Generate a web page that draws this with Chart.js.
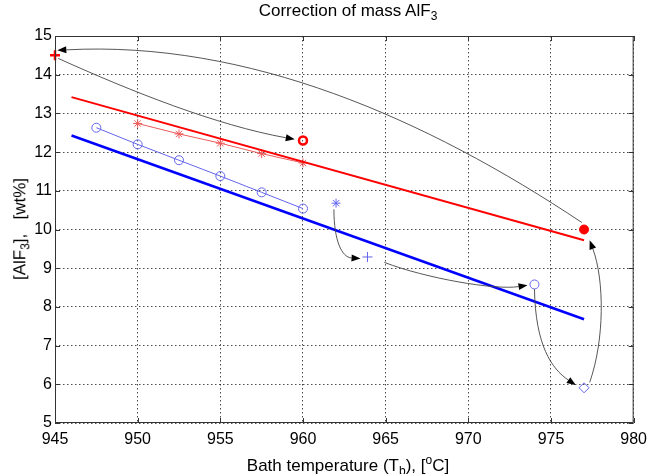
<!DOCTYPE html>
<html>
<head>
<meta charset="utf-8">
<script src="https://cdn.jsdelivr.net/npm/chart.js@4"></script>
<style>
  body { margin: 0; background: #fff; }
  #wrap { position: relative; width: 654px; height: 474px; background: #fff; font-family: "Liberation Sans", Arial, sans-serif; color: #000; }
  #c { position: absolute; left: 0; top: 0; }
  .lbl { position: absolute; font-size: 17px; white-space: nowrap; text-align: center; line-height: 20px; }
  .lbl sub, .lbl sup { font-size: 12px; }
  #title { left: 55px; width: 586px; top: 1px; }
  #xlab { left: 55px; width: 586px; top: 450px; }
  #ylab { left: 23px; top: 229px; width: 300px; transform: translate(-50%, -50%) rotate(-90deg); }
</style>
</head>
<body>
<div id="wrap">
  <canvas id="c" width="654" height="474"></canvas>
  <div class="lbl" id="title">Correction of mass AlF<sub>3</sub></div>
  <div class="lbl" id="xlab">Bath temperature (T<sub>b</sub>), [<sup>o</sup>C]</div>
  <div class="lbl" id="ylab">[AlF<sub>3</sub>],&nbsp;&nbsp; [wt%]</div>
</div>
<script>
// measured series
const starX = [950, 952.5, 955, 957.5, 960];
const starY = [12.74, 12.47, 12.23, 11.96, 11.72];
const circX = [947.5, 950, 952.5, 955, 957.5, 960];
const circY = [12.63, 12.20, 11.79, 11.38, 10.96, 10.54];

// fitted lines
const redFitX = [946, 977];
const redFitY = [13.42, 9.72];
const blueFitX = [946, 977];
const blueFitY = [12.43, 7.68];

// single points
const redPlus = [945, 14.5];
const redRing = [960, 12.3];
const redDot = [977, 10.0];
const blueStar = [962, 10.68];
const bluePlus = [963.9, 9.29];
const blueRing = [974, 8.58];
const blueDiamond = [977, 5.91];

// curved arrows, bezier in data units: x0,y0, x1,y1, x2,y2, x3,y3
const arrows = [
  [976.87, 10.18, 967.43, 12.87, 956.67, 14.89, 945.14, 14.63],
  [945.2, 14.42, 949.6, 13.57, 954.8, 12.69, 959.5, 12.33],
  [961.87, 10.52, 961.87, 9.71, 962.35, 9.28, 963.48, 9.25],
  [964.92, 9.15, 967.42, 8.74, 971.6, 8.43, 973.58, 8.56],
  [974.0, 8.455, 974.06, 7.01, 975.04, 6.40, 976.5, 5.98],
  [977.34, 6.05, 978.24, 7.14, 978.24, 8.69, 977.34, 9.72]
];

const xTicks = [945, 950, 955, 960, 965, 970, 975, 980];
const yTicks = [5, 6, 7, 8, 9, 10, 11, 12, 13, 14, 15];

function pts(xs, ys) {
  return xs.map((x, i) => ({x: x, y: ys[i]}));
}
function one(p) {
  return [{x: p[0], y: p[1]}];
}

const RED = '#ff0000';
const BLUE = '#0000ff';
const LRED = '#ee5a5a';
const LBLUE = '#6464ee';

const boxPlugin = {
  id: 'box',
  afterDraw(chart) {
    const ctx = chart.ctx;
    const a = chart.chartArea;
    const xs = chart.scales.x, ys = chart.scales.y;
    ctx.save();
    ctx.strokeStyle = '#333';
    ctx.lineWidth = 1;
    ctx.strokeRect(a.left + 0.5, a.top + 0.5, a.right - a.left - 1, a.bottom - a.top - 1);
    ctx.beginPath();
    xTicks.forEach(v => {
      const px = Math.round(xs.getPixelForValue(v)) + 0.5;
      ctx.moveTo(px, a.bottom); ctx.lineTo(px, a.bottom - 5);
      ctx.moveTo(px, a.top); ctx.lineTo(px, a.top + 5);
    });
    yTicks.forEach(v => {
      const py = Math.round(ys.getPixelForValue(v)) + 0.5;
      ctx.moveTo(a.left, py); ctx.lineTo(a.left + 5, py);
      ctx.moveTo(a.right, py); ctx.lineTo(a.right - 5, py);
    });
    ctx.stroke();
    ctx.restore();
  }
};

const arrowPlugin = {
  id: 'arrows',
  afterDatasetsDraw(chart) {
    const ctx = chart.ctx;
    const xs = chart.scales.x, ys = chart.scales.y;
    ctx.save();
    arrows.forEach(a => {
      const p = [];
      for (let i = 0; i < 8; i += 2) {
        p.push([xs.getPixelForValue(a[i]), ys.getPixelForValue(a[i + 1])]);
      }
      const dx = p[3][0] - p[2][0], dy = p[3][1] - p[2][1];
      const len = Math.hypot(dx, dy);
      const ux = dx / len, uy = dy / len;
      const hl = 9, hw = 3.5;
      const bx = p[3][0] - ux * hl, by = p[3][1] - uy * hl;
      ctx.strokeStyle = '#444';
      ctx.lineWidth = 0.9;
      ctx.beginPath();
      ctx.moveTo(p[0][0], p[0][1]);
      ctx.bezierCurveTo(p[1][0], p[1][1], p[2][0], p[2][1], bx, by);
      ctx.stroke();
      ctx.fillStyle = '#000';
      ctx.beginPath();
      ctx.moveTo(p[3][0], p[3][1]);
      ctx.lineTo(bx - uy * hw, by + ux * hw);
      ctx.lineTo(bx + uy * hw, by - ux * hw);
      ctx.closePath();
      ctx.fill();
    });
    ctx.restore();
  }
};

const ctx = document.getElementById('c');

new Chart(ctx, {
  type: 'scatter',
  data: {
    datasets: [
      {
        data: pts(redFitX, redFitY), showLine: true,
        borderColor: RED, borderWidth: 2, pointRadius: 0
      },
      {
        data: pts(blueFitX, blueFitY), showLine: true,
        borderColor: BLUE, borderWidth: 2.5, pointRadius: 0
      },
      {
        data: pts(starX, starY), showLine: true,
        borderColor: LRED, borderWidth: 1,
        pointStyle: 'star', pointRadius: 4.5, pointBorderColor: LRED, pointBorderWidth: 1,
        pointBackgroundColor: 'rgba(0,0,0,0)'
      },
      {
        data: pts(circX, circY), showLine: true,
        borderColor: LBLUE, borderWidth: 1,
        pointStyle: 'circle', pointRadius: 4.5, pointBorderColor: LBLUE, pointBorderWidth: 1,
        pointBackgroundColor: 'rgba(0,0,0,0)'
      },
      {
        data: one(redPlus), pointStyle: 'cross', pointRadius: 5, clip: false,
        pointBorderColor: RED, pointBorderWidth: 2.5
      },
      {
        data: one(redRing), pointStyle: 'circle', pointRadius: 4,
        pointBorderColor: RED, pointBorderWidth: 2.5, pointBackgroundColor: 'rgba(0,0,0,0)'
      },
      {
        data: one(redDot), pointStyle: 'circle', pointRadius: 4.5,
        pointBorderColor: RED, pointBorderWidth: 1, pointBackgroundColor: RED
      },
      {
        data: one(blueStar), pointStyle: 'star', pointRadius: 4.5,
        pointBorderColor: LBLUE, pointBorderWidth: 1
      },
      {
        data: one(bluePlus), pointStyle: 'cross', pointRadius: 5,
        pointBorderColor: LBLUE, pointBorderWidth: 1
      },
      {
        data: one(blueRing), pointStyle: 'circle', pointRadius: 4.5,
        pointBorderColor: LBLUE, pointBorderWidth: 1, pointBackgroundColor: 'rgba(0,0,0,0)'
      },
      {
        data: one(blueDiamond), pointStyle: 'rectRot', pointRadius: 5,
        pointBorderColor: LBLUE, pointBorderWidth: 1, pointBackgroundColor: 'rgba(0,0,0,0)'
      }
    ]
  },
  options: {
    responsive: false,
    animation: false,
    layout: { padding: { top: 36, right: 13, left: 0, bottom: 0 } },
    plugins: {
      legend: { display: false },
      tooltip: { enabled: false }
    },
    scales: {
      x: {
        type: 'linear', min: 945, max: 980,
        afterFit(scale) { scale.height = 51; },
        afterBuildTicks(scale) { scale.ticks = xTicks.map(v => ({value: v})); },
        ticks: { color: '#000', padding: 7, font: { family: 'Liberation Sans', size: 16 } },
        grid: { color: 'rgba(0,0,0,0.7)', lineWidth: 1, drawTicks: false },
        border: { display: false, dash: [1.5, 2.5] }
      },
      y: {
        type: 'linear', min: 5, max: 15,
        afterFit(scale) { scale.width = 55; },
        afterBuildTicks(scale) { scale.ticks = yTicks.map(v => ({value: v})); },
        ticks: { color: '#000', padding: 3, font: { family: 'Liberation Sans', size: 16 } },
        grid: { color: 'rgba(0,0,0,0.7)', lineWidth: 1, drawTicks: false },
        border: { display: false, dash: [1.5, 2.5] }
      }
    }
  },
  plugins: [arrowPlugin, boxPlugin]
});
</script>
</body>
</html>
